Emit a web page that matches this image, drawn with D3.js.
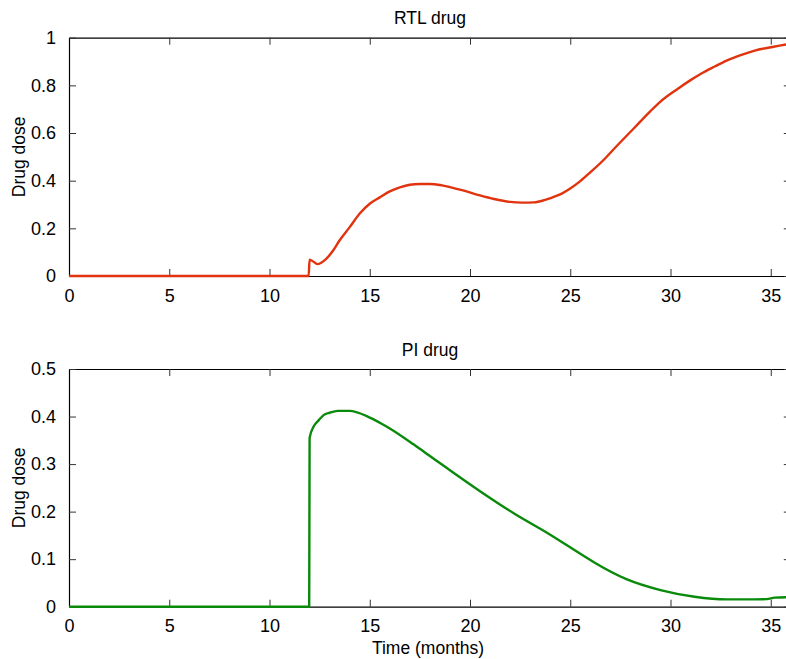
<!DOCTYPE html>
<html>
<head>
<meta charset="utf-8">
<script src="https://cdn.jsdelivr.net/npm/d3@7"></script>
<style>
  body { margin: 0; background: #fff; }
  text { font-family: "Liberation Sans", Arial, sans-serif; fill: #000; }
</style>
</head>
<body>
<div id="chart"></div>
<script>
// RTL drug (top panel)
const rtlTime = [0, 11.95, 12.0, 12.1, 12.4, 12.8, 13.2, 13.5, 14.0, 14.5, 15.0, 15.5, 16.0, 16.5, 17.0, 17.5, 18.0, 18.5, 19.0, 19.7, 20.5, 21.2, 22.0, 22.6, 23.2, 23.7, 24.2, 24.6, 25.0, 25.5, 26.0, 26.7, 27.2, 28.2, 29.0, 29.5, 30.3, 31.0, 31.5, 32.2, 32.8, 33.5, 34.2, 35.2, 36.0];
const rtlDose = [0, 0, 0.068, 0.065, 0.05, 0.07, 0.11, 0.15, 0.205, 0.262, 0.303, 0.33, 0.355, 0.372, 0.383, 0.386, 0.386, 0.382, 0.373, 0.358, 0.338, 0.323, 0.311, 0.308, 0.309, 0.318, 0.333, 0.347, 0.367, 0.398, 0.435, 0.49, 0.535, 0.622, 0.692, 0.732, 0.782, 0.822, 0.848, 0.879, 0.904, 0.927, 0.946, 0.963, 0.975];

// PI drug (bottom panel)
const piTime = [0, 11.98, 12.0, 12.2, 12.45, 12.7, 13.0, 13.4, 14.0, 14.9, 15.5, 16.0, 17.2, 18.0, 18.9, 20.5, 22.2, 23.9, 25.7, 26.2, 27.8, 29.5, 31.2, 32.8, 34.2, 34.8, 35.2, 36.0];
const piDose = [0, 0, 0.355, 0.379, 0.392, 0.403, 0.408, 0.412, 0.412, 0.400, 0.387, 0.375, 0.341, 0.317, 0.29, 0.243, 0.196, 0.154, 0.106, 0.093, 0.058, 0.035, 0.021, 0.0155, 0.0155, 0.016, 0.019, 0.02];

const xTicks = [0, 5, 10, 15, 20, 25, 30, 35];
const rtlYTicks = [0, 0.2, 0.4, 0.6, 0.8, 1];
const piYTicks = [0, 0.1, 0.2, 0.3, 0.4, 0.5];

const svg = d3.select("#chart")
    .append("svg")
    .attr("width", 786)
    .attr("height", 659);

const left = 69;
const right = 790.8;
const tickLen = 7;

function drawPanel(cfg) {
    const x = d3.scaleLinear().domain([0, 36]).range([left, right]);
    const y = d3.scaleLinear().domain(cfg.yDomain).range([cfg.bottom, cfg.top]);

    const g = svg.append("g");

    // bottom x axis with inward ticks
    const xBottom = g.append("g")
        .attr("transform", `translate(0,${cfg.bottom})`)
        .call(d3.axisBottom(x).tickValues(xTicks).tickSize(-tickLen).tickPadding(tickLen + 6).tickSizeOuter(0));
    // top x axis (ticks only)
    const xTop = g.append("g")
        .attr("transform", `translate(0,${cfg.top})`)
        .call(d3.axisTop(x).tickValues(xTicks).tickSize(-tickLen).tickFormat("").tickSizeOuter(0));
    // left y axis
    const yLeft = g.append("g")
        .attr("transform", `translate(${left},0)`)
        .call(d3.axisLeft(y).tickValues(cfg.yTicks).tickSize(-tickLen).tickPadding(tickLen + 6).tickFormat(d3.format("~g")).tickSizeOuter(0));
    // right y axis (ticks only)
    const yRight = g.append("g")
        .attr("transform", `translate(${right},0)`)
        .call(d3.axisRight(y).tickValues(cfg.yTicks).tickSize(-tickLen).tickFormat("").tickSizeOuter(0));

    [xBottom, xTop, yLeft, yRight].forEach(function (a) {
        a.select(".domain").attr("stroke", "#000").attr("stroke-width", 1.2);
        a.selectAll(".tick line").attr("stroke", "#333").attr("stroke-width", 1);
        a.selectAll(".tick text")
            .attr("font-size", 18)
            .attr("font-family", "Liberation Sans, Arial, sans-serif")
            .attr("fill", "#000");
    });

    const points = cfg.time.map(function (t, i) {
        return [t, cfg.dose[i]];
    });

    g.append("path")
        .datum(points)
        .attr("fill", "none")
        .attr("stroke", cfg.color)
        .attr("stroke-width", 2.4)
        .attr("stroke-linejoin", "round")
        .attr("d", d3.line()
            .curve(d3.curveMonotoneX)
            .x(function (d) { return x(d[0]); })
            .y(function (d) { return y(d[1]); }));

    g.append("text")
        .attr("x", 430)
        .attr("y", cfg.top - 13.5)
        .attr("text-anchor", "middle")
        .attr("font-size", 17.5)
        .text(cfg.title);

    g.append("text")
        .attr("transform", `translate(25,${(cfg.top + cfg.bottom) / 2}) rotate(-90)`)
        .attr("text-anchor", "middle")
        .attr("font-size", 17.5)
        .text("Drug dose");
}

drawPanel({
    title: "RTL drug",
    top: 37.7,
    bottom: 276,
    yDomain: [0, 1],
    yTicks: rtlYTicks,
    time: rtlTime,
    dose: rtlDose,
    color: "#e0330e"
});

drawPanel({
    title: "PI drug",
    top: 369,
    bottom: 606.7,
    yDomain: [0, 0.5],
    yTicks: piYTicks,
    time: piTime,
    dose: piDose,
    color: "#0a8a0a"
});

svg.append("text")
    .attr("x", 428)
    .attr("y", 654)
    .attr("text-anchor", "middle")
    .attr("font-size", 17.5)
    .text("Time (months)");
</script>
</body>
</html>
